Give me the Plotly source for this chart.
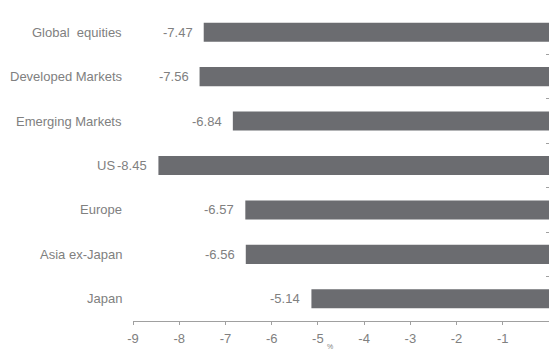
import plotly.graph_objects as go

categories = ["Global  equities", "Developed Markets", "Emerging Markets", "US", "Europe", "Asia ex-Japan", "Japan"]
values = [-7.47, -7.56, -6.84, -8.45, -6.57, -6.56, -5.14]
x_ticks = [-9, -8, -7, -6, -5, -4, -3, -2, -1, 0]
x_ticklabels = ["-9", "-8", "-7", "-6", "-5", "-4", "-3", "-2", "-1", ""]

BAR = "#6b6c70"
TXT = "#808080"
FONT = "Liberation Sans, Arial, sans-serif"

ypos = list(range(len(categories)))

fig = go.Figure()
fig.add_trace(go.Bar(
    x=values, y=ypos, orientation="h", width=0.43,
    marker=dict(color=BAR, line=dict(width=0)),
    hoverinfo="skip",
))

ann = []
for i, (c, v) in enumerate(zip(categories, values)):
    ann.append(dict(x=v, y=i, xref="x", yref="y", text=f"{v:.2f}", showarrow=False,
                    xanchor="right", yanchor="middle", xshift=-9,
                    font=dict(size=13, color=TXT, family=FONT)))
    shift = -9
    if v < -8.2:
        shift = -16
    ann.append(dict(x=-9, y=i, xref="x", yref="y", text=c, showarrow=False,
                    xanchor="right", yanchor="middle", xshift=shift,
                    font=dict(size=13, color=TXT, family=FONT)))
ann.append(dict(x=-5, y=0, xref="x", yref="paper", text="%", showarrow=False,
                xanchor="left", yanchor="bottom", yshift=-31, xshift=7,
                font=dict(size=7, color=TXT, family=FONT)))

fig.update_layout(
    width=549, height=352,
    margin=dict(l=133, r=0, t=10, b=31),
    paper_bgcolor="white", plot_bgcolor="white",
    showlegend=False,
    annotations=ann,
    xaxis=dict(range=[-9, 0], tickvals=x_ticks, ticktext=x_ticklabels,
               showgrid=False, zeroline=False, showline=True, linecolor="#a0a0a0", linewidth=1,
               ticks="outside", ticklen=3, tickcolor="#a0a0a0", ticklabelstandoff=2,
               tickfont=dict(size=13, color=TXT, family=FONT)),
    yaxis=dict(range=[6.5, -0.5], side="right", showgrid=False, zeroline=False,
               showline=False, tickmode="array",
               tickvals=[i - 0.5 for i in ypos], ticktext=[""] * len(ypos),
               ticks="inside", ticklen=3, tickcolor="#a0a0a0", showticklabels=False),
)

fig.write_html("out.html")
